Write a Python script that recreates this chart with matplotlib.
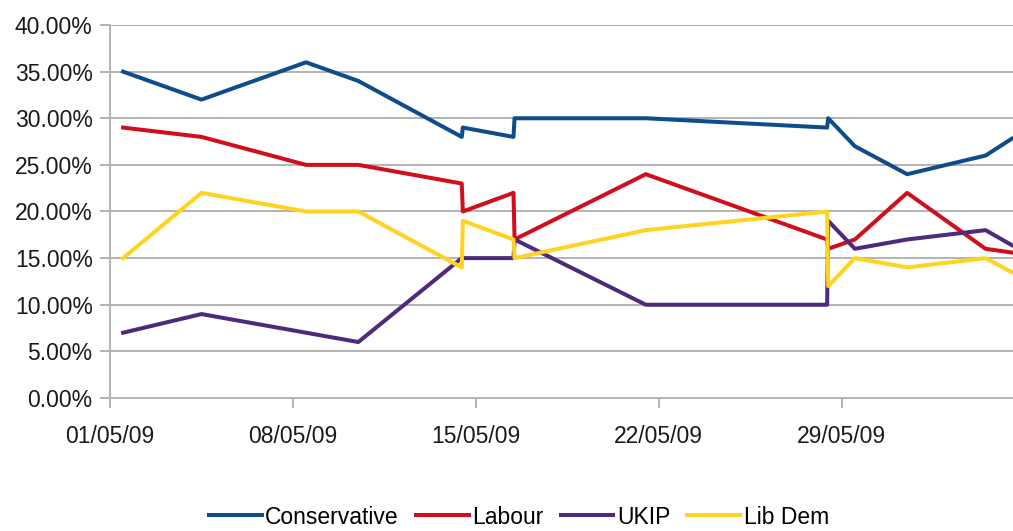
import matplotlib
matplotlib.use("Agg")
import matplotlib.pyplot as plt
import matplotlib.dates as mdates
from matplotlib.ticker import FuncFormatter
import numpy as np
from datetime import datetime, timedelta

# Poll fieldwork timestamps (several polls share a day)
poll_dates = [
    "2009-05-01 12:00", "2009-05-04 12:00", "2009-05-08 12:00", "2009-05-10 12:00",
    "2009-05-14 11:00", "2009-05-14 12:00", "2009-05-16 10:30", "2009-05-16 11:30",
    "2009-05-21 12:00", "2009-05-28 10:30", "2009-05-28 11:30", "2009-05-29 12:00",
    "2009-05-31 12:00", "2009-06-03 12:00", "2009-06-04 12:00",
]

conservative = [35, 32, 36, 34, 28, 29, 28, 30, 30, 29, 30, 27, 24, 26, 27.8]
labour       = [29, 28, 25, 25, 23, 20, 22, 17, 24, 17, 16, 17, 22, 16, 15.6]
ukip         = [7, 9, 7, 6, 15, 15, 15, 17, 10, 10, 19, 16, 17, 18, 16.4]
lib_dem      = [15, 22, 20, 20, 14, 19, 17, 15, 18, 20, 12, 15, 14, 15, 13.5]

series_names = ["Conservative", "Labour", "UKIP", "Lib Dem"]
series_colors = ["#0f4c8a", "#cf0f1d", "#4d2a7c", "#ffd320"]

tick_dates = ["2009-05-01", "2009-05-08", "2009-05-15", "2009-05-22", "2009-05-29"]

plt.rcParams['font.family'] = ['Liberation Sans', 'DejaVu Sans']

x = [datetime.strptime(d, "%Y-%m-%d %H:%M") for d in poll_dates]

fig = plt.figure(figsize=(10.13, 5.31), dpi=100)
ax = fig.add_axes([0.1086, 0.2505, 0.8914, 0.7024])

grid_color = "#b3b3b3"
for vals, name, col in zip([conservative, labour, ukip, lib_dem], series_names, series_colors):
    ax.plot(x, vals, color=col, lw=2.9, label=name, solid_joinstyle="round")

ax.set_ylim(0, 40)
ax.set_yticks(np.arange(0, 41, 5))
ax.yaxis.set_major_formatter(FuncFormatter(lambda v, p: f"{v:.2f}%"))

start = datetime(2009, 5, 1)
ax.set_xlim(start, start + timedelta(days=34.55))
ax.set_xticks([datetime.strptime(d, "%Y-%m-%d") for d in tick_dates])
ax.xaxis.set_major_formatter(mdates.DateFormatter("%d/%m/%y"))

ax.grid(axis="y", color=grid_color, lw=1.4)
ax.set_axisbelow(True)
for s in ["top", "right"]:
    ax.spines[s].set_visible(False)
for s in ["left", "bottom"]:
    ax.spines[s].set_color(grid_color)
    ax.spines[s].set_linewidth(1.4)

ax.tick_params(axis="both", colors=grid_color, labelcolor="#1a1a1a", labelsize=16.5, width=1.4, length=7.5)
ax.tick_params(axis="y", pad=5)
ax.tick_params(axis="x", pad=12)

fig.legend(loc="center", bbox_to_anchor=(519 / 1013, 1 - 517 / 531), ncol=4, frameon=False,
           fontsize=16.5, handlelength=2.3, handletextpad=0.15, columnspacing=0.75)

fig.savefig("out.png", dpi=100)
